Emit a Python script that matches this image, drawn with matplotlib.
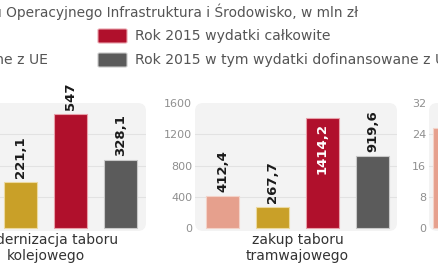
import matplotlib
matplotlib.use("Agg")
import matplotlib.pyplot as plt
from matplotlib.patches import FancyBboxPatch
import matplotlib.transforms as mtransforms

plt.rcParams['font.family'] = ['DejaVu Sans']

W, H = 439, 274

title = "Wydatki w ramach Programu Operacyjnego Infrastruktura i Środowisko, w mln zł"
series = ["Rok 2014 wydatki całkowite",
          "Rok 2014 w tym wydatki dofinansowane z UE",
          "Rok 2015 wydatki całkowite",
          "Rok 2015 w tym wydatki dofinansowane z UE"]
colors = ["#e6a08d", "#c9a028", "#b0102c", "#5b5b5b"]
edge_colors = ["#f3d2c8", "#ecd9a0", "#e8a0aa", "#c8c8c8"]

categories = ["modernizacja taboru\nkolejowego", "zakup taboru\ntramwajowego", "tabor\nautobusowy"]
values = [
    [380.0, 221.1, 547, 328.1],
    [412.4, 267.7, 1414.2, 919.6],
    [25.5, 18.0, 29.0, 16.0],
]
labels = [
    ["380", "221,1", "547", "328,1"],
    ["412,4", "267,7", "1414,2", "919,6"],
    ["25,5", "18", "29", "16"],
]
yticks = [[0, 150, 300, 450, 600], [0, 400, 800, 1200, 1600], [0, 8, 16, 24, 32]]
# label inside bar when it does not fit above
inside = [[], [2], []]


def px_rect(x0, y0, x1, y1):
    return [x0 / W, 1 - y1 / H, (x1 - x0) / W, (y1 - y0) / H]


fig = plt.figure(figsize=(W / 100, H / 100), dpi=100)

# panels: left px, right px, xlim left
panels = [(-56.5, 146, -0.55), (195, 397, -0.55), (429, 631, -0.42)]
top_px, base_px = 103, 228

for i, (x0, x1, xl) in enumerate(panels):
    ymax = yticks[i][-1]
    span = base_px - top_px
    bot_px = base_px + 3
    ax = fig.add_axes(px_rect(x0, top_px, x1, bot_px))
    ymin = -ymax * 3 / span
    ax.set_ylim(ymin, ymax)
    ax.set_xlim(xl, xl + (x1 - x0) / 50)
    ax.patch.set_visible(False)
    bg = FancyBboxPatch((0, 0), 1, 1, boxstyle="round,pad=0,rounding_size=0.04",
                        transform=ax.transAxes, facecolor="#f3f3f3",
                        edgecolor="none", zorder=0, clip_on=False,
                        mutation_aspect=(x1 - x0) / (bot_px - top_px))
    ax.add_patch(bg)
    for t in yticks[i][1:-1]:
        ax.axhline(t, color="#e2e2e2", lw=0.8, zorder=1)
    for s in ax.spines.values():
        s.set_visible(False)
    ax.set_yticks(yticks[i])
    ax.set_yticklabels([str(t) for t in yticks[i]], fontsize=8, color="#8f8f8f")
    ax.tick_params(axis="y", length=0, pad=2)
    ax.set_xticks([])

    xs = range(len(values[i]))
    ax.bar(xs, values[i], width=0.66, color=colors, edgecolor=edge_colors,
           linewidth=0.8, zorder=2)
    for j, v in enumerate(values[i]):
        if j in inside[i]:
            off = mtransforms.offset_copy(ax.transData, fig=fig, x=0, y=-5, units="dots")
            ax.text(j, v, labels[i][j], rotation=90, ha="center", va="top",
                    fontsize=9.5, fontweight="bold", color="white",
                    transform=off, zorder=3)
        else:
            off = mtransforms.offset_copy(ax.transData, fig=fig, x=0, y=4, units="dots")
            ax.text(j, v, labels[i][j], rotation=90, ha="center", va="bottom",
                    fontsize=9.5, fontweight="bold", color="#1a1a1a",
                    transform=off, zorder=3, clip_on=False)
    off = mtransforms.offset_copy(ax.transData, fig=fig, x=0, y=-5, units="dots")
    ax.text(1.5, 0, categories[i], ha="center", va="top", fontsize=10,
            color="#333333", linespacing=1.15, transform=off, clip_on=False)

# title, cut at the left edge
fig.text(358 / W, 1 - 12 / H, title, ha="right", va="center", fontsize=9.9,
         color="#555555")

# legend, two columns, left one cut off
renderer = fig.canvas.get_renderer()
leg_rows = [36, 60]
probe = fig.text(0, 0, series[1], fontsize=10.1)
left_w = probe.get_window_extent(renderer).width
probe.remove()
for k in range(4):
    col, row = divmod(k, 2)
    y = leg_rows[row]
    if col == 1:
        tx, px0 = 135, 98
    else:
        tx = 48 - left_w
        px0 = tx - 37
    fig.patches.append(FancyBboxPatch(
        (px0 / W, 1 - (y + 7) / H), 29 / W, 14 / H,
        boxstyle="round,pad=0,rounding_size=0.004", transform=fig.transFigure,
        facecolor=colors[k], edgecolor=edge_colors[k], lw=0.8))
    fig.text(tx / W, 1 - y / H, series[k], ha="left", va="center",
             fontsize=10.1, color="#555555")

fig.savefig("out.png", dpi=100)
